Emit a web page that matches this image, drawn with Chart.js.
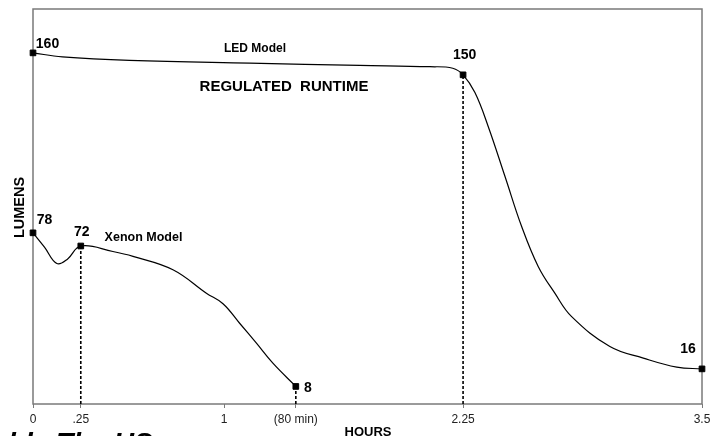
<!DOCTYPE html>
<html>
<head>
<meta charset="utf-8">
<script src="https://cdn.jsdelivr.net/npm/chart.js@4/dist/chart.umd.min.js"></script>
<style>
  body { margin: 0; background: #fff; }
  canvas { display: block; }
</style>
</head>
<body>
<canvas id="runtimeChart" width="717" height="436"></canvas>
<script>
// LED model curve (hours, lumens)
const ledHours  = [0, 0.154, 0.505, 1.134, 1.709, 2.076, 2.196, 2.25, 2.312, 2.381, 2.469, 2.556, 2.643, 2.730, 2.818, 3.018, 3.193, 3.368, 3.5];
const ledLumens = [160, 158.2, 156.6, 155.3, 154.3, 153.7, 153.0, 150, 141.9, 126.6, 103.8, 81.0, 62.7, 50.5, 39.8, 26.2, 20.9, 16.8, 16];

// Xenon model curve
const xenonHours  = [0, 0.06, 0.125, 0.18, 0.25, 0.418, 0.523, 0.732, 0.907, 0.994, 1.081, 1.169, 1.255, 1.375];
const xenonLumens = [78, 71.5, 64.0, 66.0, 72, 69.5, 67.3, 61.2, 50.5, 45.7, 36.8, 27.7, 18.6, 8];

// labelled points
const ledMarkHours  = [0, 2.25, 3.5];
const ledMarkLumens = [160, 150, 16];
const xenonMarkHours  = [0, 0.25, 1.375];
const xenonMarkLumens = [78, 72, 8];

// dashed drop lines
const dropHours  = [0.25, 1.375, 2.25];
const dropLumens = [72, 8, 150];

// x axis ticks
const xTicks = [0, 0.25, 1, 1.375, 2.25, 3.5];
const xTickLabels = ['0', '.25', '1', '(80 min)', '2.25', '3.5'];

function pts(xs, ys) {
    return xs.map((h, i) => ({ x: h, y: ys[i] }));
}

// 文字偏移 (px)
const ledLabelOffsets = [[14.5, -9], [1.5, -20], [-14, -19.5]];
const xenonLabelOffsets = [[11.5, -13], [1, -13.5], [12, 2]];

const datasets = [
    {
        data: pts(ledHours, ledLumens),
        borderColor: '#000', borderWidth: 1.2,
        pointRadius: 0, tension: 0.4
    },
    {
        data: pts(xenonHours, xenonLumens),
        borderColor: '#000', borderWidth: 1.2,
        pointRadius: 0, tension: 0.4
    }
];
dropHours.forEach(function (h, i) {
    datasets.push({
        data: [{ x: h, y: 0 }, { x: h, y: dropLumens[i] }],
        borderColor: '#000', borderWidth: 1.6, borderDash: [3, 2],
        pointRadius: 0, clip: false
    });
});
datasets.push({
    data: pts(ledMarkHours, ledMarkLumens),
    showLine: false, pointStyle: 'rect', pointRadius: 4,
    pointBackgroundColor: '#000', pointBorderColor: '#000', clip: false
});
datasets.push({
    data: pts(xenonMarkHours, xenonMarkLumens),
    showLine: false, pointStyle: 'rect', pointRadius: 4,
    pointBackgroundColor: '#000', pointBorderColor: '#000', clip: false
});

const notes = {
    id: 'notes',
    beforeDatasetsDraw(chart) {
        const { ctx, chartArea: a } = chart;
        ctx.save();
        ctx.strokeStyle = '#7a7a7a';
        ctx.lineWidth = 1.5;
        ctx.strokeRect(a.left, a.top, a.right - a.left, a.bottom - a.top);
        ctx.restore();
    },
    afterDatasetsDraw(chart) {
        const { ctx, scales: { x, y } } = chart;
        ctx.save();
        ctx.fillStyle = '#000';
        ctx.textAlign = 'center';
        ctx.textBaseline = 'middle';

        ctx.font = 'bold 14px "Liberation Sans", Arial, sans-serif';
        ledMarkHours.forEach(function (h, i) {
            ctx.fillText(String(ledMarkLumens[i]),
                x.getPixelForValue(h) + ledLabelOffsets[i][0],
                y.getPixelForValue(ledMarkLumens[i]) + ledLabelOffsets[i][1]);
        });
        xenonMarkHours.forEach(function (h, i) {
            ctx.fillText(String(xenonMarkLumens[i]),
                x.getPixelForValue(h) + xenonLabelOffsets[i][0],
                y.getPixelForValue(xenonMarkLumens[i]) + xenonLabelOffsets[i][1]);
        });

        ctx.font = 'bold 12px "Liberation Sans", Arial, sans-serif';
        ctx.fillText('LED Model', 255, 49);
        ctx.font = 'bold 12.5px "Liberation Sans", Arial, sans-serif';
        ctx.fillText('Xenon Model', 143.5, 237.5);
        ctx.font = 'bold 15px "Liberation Sans", Arial, sans-serif';
        ctx.fillText('REGULATED  RUNTIME', 284, 87);

        // y title
        ctx.save();
        ctx.translate(20, 207.5);
        ctx.rotate(-Math.PI / 2);
        ctx.font = 'bold 14.5px "Liberation Sans", Arial, sans-serif';
        ctx.fillText('LUMENS', 0, 0);
        ctx.restore();

        // x title (cut off at the bottom)
        ctx.textBaseline = 'top';
        ctx.font = 'bold 13px "Liberation Sans", Arial, sans-serif';
        ctx.fillText('HOURS', 368, 426);

        // page text peeking in at the bottom
        ctx.textAlign = 'left';
        ctx.textBaseline = 'alphabetic';
        ctx.font = 'italic bold 28px "Liberation Sans", Arial, sans-serif';
        ctx.fillText('ble The US', 8, 452);
        ctx.restore();
    }
};

const chart = new Chart(document.getElementById('runtimeChart'), {
    type: 'line',
    data: { datasets: datasets },
    options: {
        responsive: false,
        animation: false,
        layout: { padding: { left: 33, top: 9, right: 15, bottom: 0 } },
        plugins: {
            legend: { display: false },
            tooltip: { enabled: false }
        },
        scales: {
            x: {
                type: 'linear', min: 0, max: 3.5,
                afterBuildTicks: function (axis) {
                    axis.ticks = xTicks.map(v => ({ value: v }));
                },
                afterFit: function (axis) { axis.height = 32; },
                grid: { drawOnChartArea: false, tickLength: 4, color: '#7a7a7a' },
                border: { display: false },
                ticks: {
                    autoSkip: false, maxRotation: 0, padding: 4,
                    color: '#222',
                    font: { family: '"Liberation Sans", Arial, sans-serif', size: 12 },
                    callback: function (value, index) { return xTickLabels[index]; }
                }
            },
            y: { display: false, min: 0, max: 180 }
        }
    },
    plugins: [notes]
});
</script>
</body>
</html>
